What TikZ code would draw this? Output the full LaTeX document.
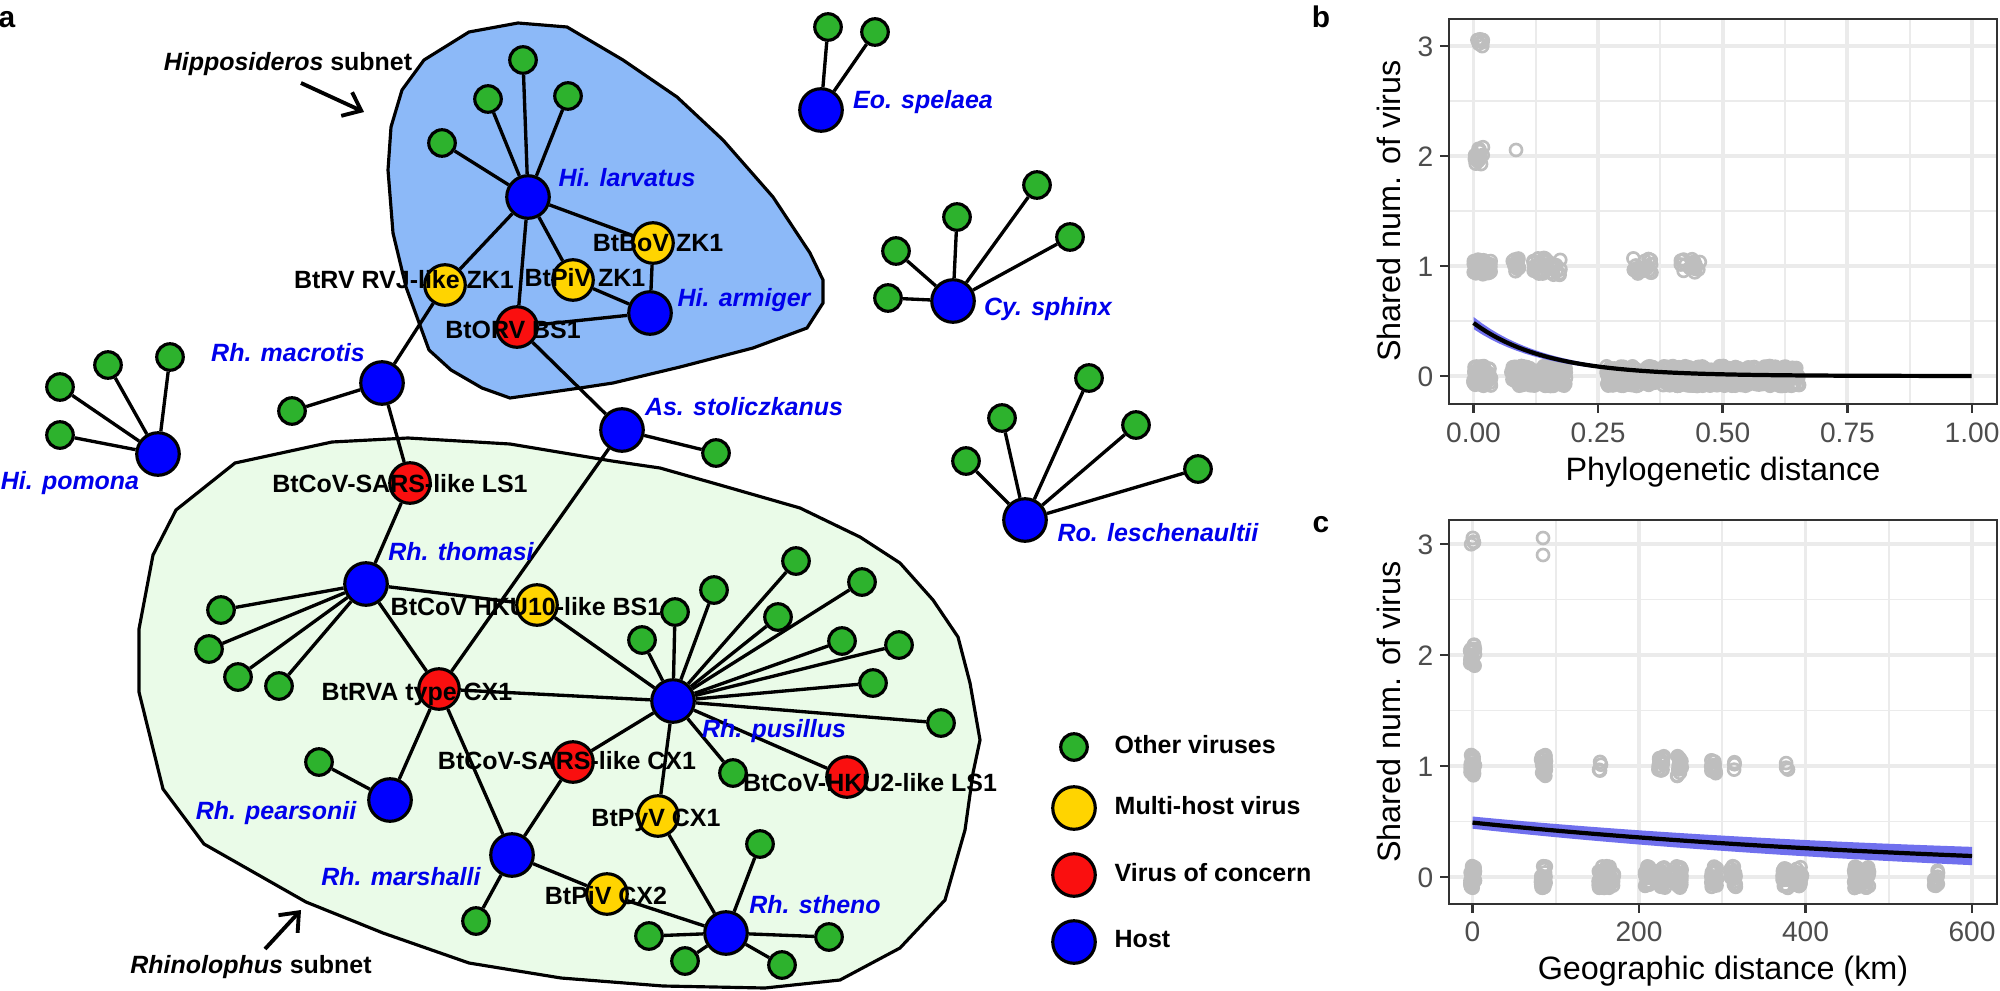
\documentclass[tikz,border=0pt]{standalone}
\usepackage{fontspec}
\setmainfont{Liberation Sans}
\usetikzlibrary{arrows.meta}
\definecolor{hostblue}{RGB}{0,0,255}
\definecolor{spblue}{RGB}{0,0,235}
\definecolor{othergreen}{RGB}{45,178,45}
\definecolor{multiyellow}{RGB}{255,212,0}
\definecolor{concernred}{RGB}{250,15,15}
\definecolor{hippofill}{RGB}{140,185,248}
\definecolor{rhinofill}{RGB}{234,251,232}
\definecolor{gridgray}{RGB}{235,235,235}
\definecolor{ptgray}{RGB}{190,190,190}
\definecolor{axgray}{RGB}{51,51,51}
\definecolor{ticktext}{RGB}{77,77,77}
\definecolor{ribbonblue}{RGB}{112,112,238}
\newcommand\labfont{\fontsize{7.1}{8}\selectfont\bfseries}
\newcommand\spfont{\fontsize{7.1}{8}\selectfont\bfseries\itshape}
\newcommand\subfont{\fontsize{7.1}{8}\selectfont\bfseries}
\newcommand\tickfont{\fontsize{8}{9}\selectfont}
\newcommand\titfont{\fontsize{9.2}{10}\selectfont}
\newcommand\ptband[5]{\foreach \k in {1,...,#5}{\pgfmathsetmacro\xx{#1+(#2-#1)*rnd}\pgfmathsetmacro\yy{#3+#4*rand}\draw[jpt] (\xx,\yy) circle[radius=6];}}
\begin{document}
\begin{tikzpicture}[x=0.01cm,y=-0.01cm,
  nd/.style={circle,draw=black,line width=0.9pt,inner sep=0pt},
  host/.style={nd,fill=hostblue,minimum size=0.425cm},
  multi/.style={nd,fill=multiyellow,minimum size=0.405cm},
  concern/.style={nd,fill=concernred,minimum size=0.405cm},
  other/.style={nd,fill=othergreen,minimum size=0.265cm},
  lab/.style={font=\labfont,inner sep=0pt,text height=5.1pt,text depth=0pt},
  spl/.style={font=\spfont,text=spblue,inner sep=0pt,text height=5.1pt,text depth=0pt},
  lnk/.style={line width=0.95pt},
  blob/.style={line width=0.9pt,draw=black},
  jpt/.style={draw=ptgray,line width=0.75pt},
  gmaj/.style={draw=gridgray,line width=1.1pt},
  gmin/.style={draw=gridgray,line width=0.55pt},
  axl/.style={draw=axgray,line width=0.75pt},
  tkl/.style={font=\tickfont,text=ticktext,inner sep=0pt,text height=5.7pt,text depth=0pt},
  ttl/.style={font=\titfont,inner sep=0pt,text height=6.6pt,text depth=0pt},
  pnl/.style={font=\fontsize{8.5}{9}\selectfont\bfseries,inner sep=0pt,text height=6.2pt,text depth=0pt}
]
\useasboundingbox (0,0) rectangle (2000,991);
\fill[white] (0,0) rectangle (2000,991);
\pgfmathsetseed{4242}

% ---------------- blobs
\draw[blob,fill=hippofill] (518,23) -- (567,27) -- (623,60) -- (677,97) -- (723,140) -- (773,197) -- (810,253) -- (823,280) -- (823,303) -- (807,328) -- (753,348) -- (680,367) -- (613,383) -- (580,388) -- (510,398) -- (482,388) -- (451,370) -- (429,350) -- (406,287) -- (393,233) -- (388,170) -- (391,127) -- (402,90) -- (424,60) -- (469,32) -- cycle;
\draw[blob,fill=rhinofill] (235,463) -- (332,442) -- (408,438) -- (510,444) -- (612,461) -- (660,468) -- (720,485) -- (800,508) -- (860,537) -- (900,563) -- (933,600) -- (958,637) -- (970,683) -- (980,740) -- (973,773) -- (965,830) -- (945,900) -- (900,948) -- (840,980) -- (765,988) -- (663,986) -- (561,978) -- (469,963) -- (383,933) -- (306,902) -- (204,844) -- (163,789) -- (139,692) -- (139,629) -- (153,555) -- (176,510) -- cycle;

% ---------------- hosts
\node[host] (hlar) at (528,197) {};
\node[host] (harm) at (650,313) {};
\node[host] (eosp) at (821,110) {};
\node[host] (cysp) at (953,301) {};
\node[host] (asst) at (622,430) {};
\node[host] (rles) at (1025,520) {};
\node[host] (hpom) at (158,454) {};
\node[host] (rmac) at (382,383) {};
\node[host] (rtho) at (366,584) {};
\node[host] (rpus) at (673,701) {};
\node[host] (rpea) at (390,800) {};
\node[host] (rmar) at (512,855) {};
\node[host] (rsth) at (726,933) {};
% multi-host
\node[multi] (vrvj) at (445,285) {};
\node[multi] (vpiz) at (573,280) {};
\node[multi] (vboz) at (653,243) {};
\node[multi] (vhkt) at (537,605) {};
\node[multi] (vpyv) at (658,816) {};
\node[multi] (vpcx) at (607,894) {};
% concern
\node[concern] (vorv) at (517,327) {};
\node[concern] (vsls) at (410,483) {};
\node[concern] (vrva) at (439,689) {};
\node[concern] (vscx) at (573,762) {};
\node[concern] (vhk2) at (847,777) {};
% other viruses
\foreach \n/\p in {g1/{(523,60)},g2/{(488,99)},g3/{(568,96)},g4/{(442,143)},
  g5/{(828,27)},g6/{(875,32)},
  g7/{(896,251)},g8/{(888,298)},g9/{(957,217)},g10/{(1037,185)},g11/{(1070,237)},
  g12/{(716,453)},
  g13/{(966,461)},g14/{(1002,418)},g15/{(1089,378)},g16/{(1136,425)},g17/{(1198,469)},
  g18/{(170,357)},g19/{(108,365)},g20/{(60,387)},g21/{(60,435)},
  g22/{(292,411)},
  g23/{(221,610)},g24/{(209,649)},g25/{(238,677)},g26/{(279,686)},
  g27/{(319,762)},g28/{(476,921)},
  g29/{(760,844)},g30/{(649,936)},g31/{(685,961)},g32/{(782,965)},g33/{(829,937)},
  g34/{(642,640)},g35/{(675,612)},g36/{(714,590)},g37/{(796,561)},g38/{(778,617)},
  g39/{(862,582)},g40/{(842,641)},g41/{(899,645)},g42/{(873,683)},g43/{(941,723)},g44/{(733,773)}}
  {\node[other] (\n) at \p {};}

% ---------------- edges
\foreach \a/\b in {hlar/g1,hlar/g2,hlar/g3,hlar/g4,hlar/vrvj,hlar/vpiz,hlar/vboz,hlar/vorv,
  harm/vboz,harm/vpiz,harm/vorv,vrvj/rmac,vorv/asst,eosp/g5,eosp/g6,
  cysp/g7,cysp/g8,cysp/g9,cysp/g10,cysp/g11,asst/g12,asst/vrva,
  rles/g13,rles/g14,rles/g15,rles/g16,rles/g17,hpom/g18,hpom/g19,hpom/g20,hpom/g21,
  rmac/g22,rmac/vsls,vsls/rtho,rtho/g23,rtho/g24,rtho/g25,rtho/g26,rtho/vhkt,rtho/vrva,
  vhkt/rpus,vrva/rpus,vrva/rpea,vrva/rmar,rpea/g27,vscx/rpus,vscx/rmar,vpyv/rpus,vpyv/rsth,
  rmar/g28,rmar/vpcx,vpcx/rsth,rsth/g29,rsth/g30,rsth/g31,rsth/g32,rsth/g33,
  rpus/g34,rpus/g35,rpus/g36,rpus/g37,rpus/g38,rpus/g39,rpus/g40,rpus/g41,rpus/g42,rpus/g43,rpus/g44,rpus/vhk2}
  {\draw[lnk] (\a) -- (\b);}

% ---------------- labels
\node[spl] (Lhlar) at (627,178) {Hi. larvatus};
\node[spl] (Lharm) at (744,298) {Hi. armiger};
\node[spl] (Leosp) at (923,100) {Eo. spelaea};
\node[spl] (Lcysp) at (1048,307) {Cy. sphinx};
\node[spl] (Lasst) at (744,407) {As. stoliczkanus};
\node[spl] (Lrles) at (1158,533) {Ro. leschenaultii};
\node[spl] (Lhpom) at (70,481) {Hi. pomona};
\node[spl] (Lrmac) at (288,353) {Rh. macrotis};
\node[spl] (Lrtho) at (461,552) {Rh. thomasi};
\node[spl] (Lrpus) at (774,729) {Rh. pusillus};
\node[spl] (Lrpea) at (276,811) {Rh. pearsonii};
\node[spl] (Lrmar) at (401,877) {Rh. marshalli};
\node[spl] (Lrsth) at (815,905) {Rh. stheno};
\node[lab] (Lvrvj) at (404,280) {BtRV RVJ-like ZK1};
\node[lab] (Lvpiz) at (585,278) {BtPiV ZK1};
\node[lab] (Lvboz) at (658,243) {BtBoV ZK1};
\node[lab] (Lvorv) at (513,330) {BtORV BS1};
\node[lab] (Lvsls) at (400,484) {BtCoV-SARS-like LS1};
\node[lab] (Lvhkt) at (526,607) {BtCoV HKU10-like BS1};
\node[lab] (Lvrva) at (417,692) {BtRVA type CX1};
\node[lab] (Lvscx) at (567,761) {BtCoV-SARS-like CX1};
\node[lab] (Lvpyv) at (656,818) {BtPyV CX1};
\node[lab] (Lvpcx) at (606,896) {BtPiV CX2};
\node[lab] (Lvhk2) at (870,783) {BtCoV-HKU2-like LS1};

% subnet labels and arrows
\node[font=\subfont,inner sep=0pt,text height=5.1pt,text depth=0pt] (Lhip) at (288,62) {\textit{Hipposideros} subnet};
\coordinate (ha0) at (301,83); \coordinate (ha1) at (364,112);
\draw[line width=1.1pt,-{Straight Barb[length=1.6mm,width=2.6mm,line width=1.1pt]}] (ha0) -- (ha1);
\node[font=\subfont,inner sep=0pt,text height=5.1pt,text depth=0pt] (Lrhi) at (251,965) {\textit{Rhinolophus} subnet};
\coordinate (ra0) at (265,949); \coordinate (ra1) at (301,910);
\draw[line width=1.1pt,-{Straight Barb[length=1.6mm,width=2.6mm,line width=1.1pt]}] (ra0) -- (ra1);

% legend
\node[other] (lg1) at (1074,747) {};
\node[multi,minimum size=0.425cm] (lg2) at (1074,808) {};
\node[concern,minimum size=0.425cm] (lg3) at (1074,875) {};
\node[host] (lg4) at (1074,942) {};
\node[lab,anchor=west] (lt1) at (1114,745) {Other viruses};
\node[lab,anchor=west] (lt2) at (1114,806) {Multi-host virus};
\node[lab,anchor=west] (lt3) at (1114,873) {Virus of concern};
\node[lab,anchor=west] (lt4) at (1114,939) {Host};

% panel letters
\node[pnl] (pa) at (7,17) {a};
\node[pnl] (pb) at (1321,17) {b};
\node[pnl] (pc) at (1321,522) {c};

% ================= panel b
\foreach \gx in {1535.8,1660.4,1785.1,1909.7} \draw[gmin] (\gx,19) -- (\gx,404);
\foreach \gy in {321,211,101} \draw[gmin] (1449,\gy) -- (1997,\gy);
\foreach \gx in {1473.5,1598.1,1722.75,1847.4,1972} \draw[gmaj] (\gx,19) -- (\gx,404);
\foreach \gy in {376,266,156,46} \draw[gmaj] (1449,\gy) -- (1997,\gy);
\ptband{1473.5}{1491}{376}{10}{60}
\ptband{1511}{1566}{376}{10}{190}
\ptband{1606}{1655}{376}{10}{160}
\ptband{1663}{1800}{376}{10}{420}
\ptband{1473.5}{1491}{266}{9}{45}
\ptband{1511}{1519}{266}{8}{16}
\ptband{1533}{1561}{266}{9}{36}
\ptband{1633}{1653}{266}{8}{24}
\ptband{1680}{1700}{266}{7}{18}
\ptband{1473.5}{1487}{156}{9}{16}
\draw[jpt] (1516,150) circle[radius=6];
\ptband{1477}{1484}{42}{6}{6}
\fill[ribbonblue] plot[domain=0:1,samples=60] ({1473.5+498.5*\x},{376-110*(0.482*exp(-6.9*\x)+0.055*exp(-5*\x))}) -- plot[domain=1:0,samples=60] ({1473.5+498.5*\x},{376-110*(0.482*exp(-6.9*\x)-0.055*exp(-5*\x))}) -- cycle;
\draw[line width=1.2pt] plot[domain=0:1,samples=80] ({1473.5+498.5*\x},{376-110*0.482*exp(-6.9*\x)});
\draw[axl] (1449,19) rectangle (1997,404);
\foreach \tx/\tl [count=\i] in {1473.5/0.00,1598.1/0.25,1722.75/0.50,1847.4/0.75,1972/1.00}{
  \draw[axl] (\tx,404) -- (\tx,413);
  \node[tkl] (bx\i) at (\tx,432) {\tl};}
\foreach \ty/\tl [count=\i] in {376/0,266/1,156/2,46/3}{
  \draw[axl] (1449,\ty) -- (1440,\ty);
  \node[tkl,anchor=east] (by\i) at (1434,\ty) {\tl};}
\node[ttl] (bxt) at (1723,469) {Phylogenetic distance};
\node[ttl,rotate=90] (byt) at (1389,211) {Shared num. of virus};

% ================= panel c
\foreach \gx in {1555.75,1722.25,1888.75} \draw[gmin] (\gx,520) -- (\gx,904);
\foreach \gy in {821.5,710.5,599.5} \draw[gmin] (1449,\gy) -- (1997,\gy);
\foreach \gx in {1472.5,1639,1805.5,1972} \draw[gmaj] (\gx,520) -- (\gx,904);
\foreach \gy in {877,766,655,544} \draw[gmaj] (1449,\gy) -- (1997,\gy);
\ptband{1470}{1475}{877}{11}{35}
\ptband{1541}{1546}{877}{11}{28}
\ptband{1597}{1614}{877}{11}{50}
\ptband{1645}{1650}{877}{11}{22}
\ptband{1660}{1665}{877}{11}{25}
\ptband{1676}{1682}{877}{11}{25}
\ptband{1711}{1717}{877}{11}{22}
\ptband{1730}{1736}{877}{11}{22}
\ptband{1782}{1788}{877}{11}{25}
\ptband{1796}{1802}{877}{11}{22}
\ptband{1854}{1860}{877}{11}{22}
\ptband{1863}{1869}{877}{11}{22}
\ptband{1934}{1938}{877}{9}{12}
\ptband{1470}{1475}{766}{11}{30}
\ptband{1541}{1546}{766}{11}{25}
\ptband{1599}{1601}{766}{7}{4}
\ptband{1658}{1664}{766}{10}{18}
\ptband{1677}{1682}{766}{10}{18}
\ptband{1711}{1716}{766}{9}{14}
\ptband{1733}{1735}{766}{6}{4}
\ptband{1786}{1788}{766}{5}{3}
\ptband{1470}{1475}{655}{11}{20}
\ptband{1471}{1474}{541}{4}{4}
\draw[jpt] (1543,555) circle[radius=6];
\draw[jpt] (1543,538) circle[radius=6];
\fill[ribbonblue] plot[domain=0:600,samples=40] ({1472.5+0.8325*\x},{877-111*(0.49*exp(-0.00158*\x)+0.055+0.00005*\x)}) -- plot[domain=600:0,samples=40] ({1472.5+0.8325*\x},{877-111*(0.49*exp(-0.00158*\x)-0.055-0.00005*\x)}) -- cycle;
\draw[line width=1.2pt] plot[domain=0:600,samples=40] ({1472.5+0.8325*\x},{877-111*0.49*exp(-0.00158*\x)});
\draw[axl] (1449,520) rectangle (1997,904);
\foreach \tx/\tl [count=\i] in {1472.5/0,1639/200,1805.5/400,1972/600}{
  \draw[axl] (\tx,904) -- (\tx,913);
  \node[tkl] (cx\i) at (\tx,931) {\tl};}
\foreach \ty/\tl [count=\i] in {877/0,766/1,655/2,544/3}{
  \draw[axl] (1449,\ty) -- (1440,\ty);
  \node[tkl,anchor=east] (cy\i) at (1434,\ty) {\tl};}
\node[ttl] (cxt) at (1723,968) {Geographic distance (km)};
\node[ttl,rotate=90] (cyt) at (1389,712) {Shared num. of virus};
\end{tikzpicture}
\end{document}
